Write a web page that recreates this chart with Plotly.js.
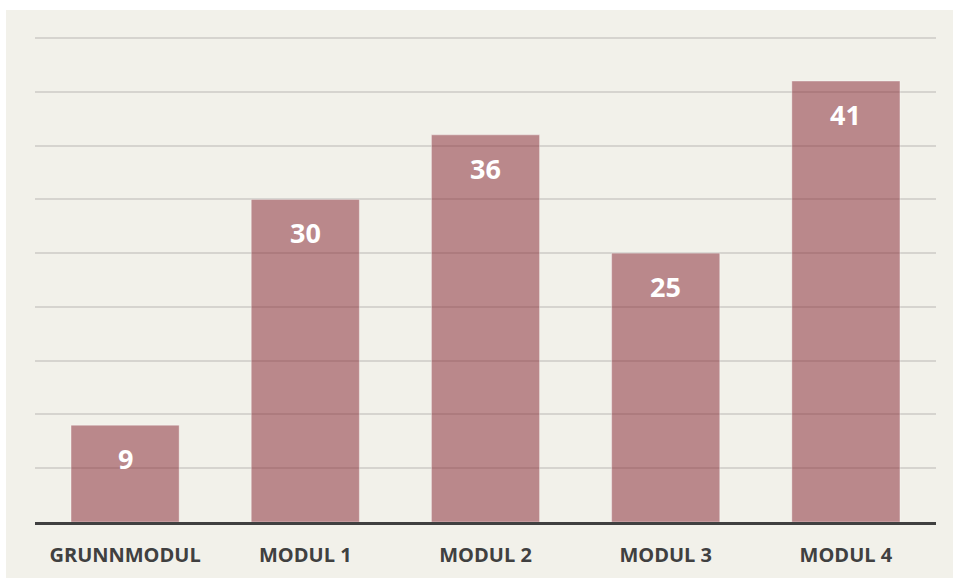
<!DOCTYPE html>
<html>
<head>
<meta charset="utf-8">
<script src="https://cdn.plot.ly/plotly-3.0.1.min.js"></script>
<style>
html,body{margin:0;padding:0;background:#ffffff;width:953px;height:578px;overflow:hidden;}
#panel{position:absolute;left:6px;top:10px;width:947px;height:568px;background:#f2f1ea;}
#chart{position:absolute;left:0;top:0;width:953px;height:578px;}
</style>
</head>
<body>
<div id="panel"></div>
<div id="chart"></div>
<script>
var categories = ["GRUNNMODUL", "MODUL 1", "MODUL 2", "MODUL 3", "MODUL 4"];
var values = [9, 30, 36, 25, 41];

var trace = {
  type: "bar",
  x: categories,
  y: values,
  width: 0.6,
  marker: {color: "rgba(140,50,60,0.55)", line: {color: "rgba(255,255,255,0.35)", width: 1}},
  hoverinfo: "none"
};

var annotations = categories.map(function(c, i){
  return {
    x: c, y: values[i], xref: "x", yref: "y",
    text: String(values[i]), showarrow: false,
    yanchor: "top", yshift: -13,
    font: {family: "Open Sans", size: 27, color: "#ffffff", weight: "bold"}
  };
});

var layout = {
  width: 953, height: 578,
  margin: {l: 35, r: 17, t: 37, b: 56},
  paper_bgcolor: "rgba(0,0,0,0)",
  plot_bgcolor: "rgba(0,0,0,0)",
  showlegend: false,
  bargap: 0.4,
  xaxis: {
    showline: true, linecolor: "#404040", linewidth: 3,
    ticks: "outside", ticklen: 13, tickcolor: "rgba(0,0,0,0)",
    tickfont: {family: "Open Sans", size: 20, color: "#404040", weight: "bold"},
    fixedrange: true
  },
  yaxis: {
    range: [0, 45.1], dtick: 5, showticklabels: false,
    showgrid: true, gridcolor: "#d6d4cf", gridwidth: 2,
    zeroline: false, fixedrange: true
  },
  annotations: annotations
};

Plotly.newPlot("chart", [trace], layout, {displayModeBar: false, staticPlot: true});
</script>
</body>
</html>
